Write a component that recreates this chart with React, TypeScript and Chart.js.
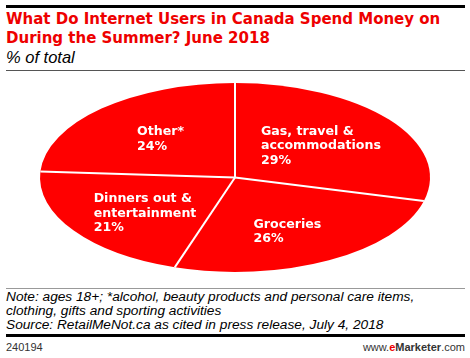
import React, { useEffect, useRef } from "react";
import { Chart, registerables } from "chart.js";

Chart.register(...registerables);

const categories: string[][] = [
  ["Gas, travel &", "accommodations"],
  ["Groceries"],
  ["Dinners out &", "entertainment"],
  ["Other*"],
];
const values: number[] = [29, 26, 21, 24];

const RED = "#ff0000";
const X_STRETCH = 195 / 94.5;

const ellipsePlugin = {
  id: "ellipsePie",
  beforeDatasetsDraw(chart: any) {
    const meta = chart.getDatasetMeta(0);
    const arc = meta.data[0];
    if (!arc) return;
    const ctx = chart.ctx;
    ctx.save();
    ctx.translate(arc.x, arc.y);
    ctx.scale(X_STRETCH, 1);
    ctx.translate(-arc.x, -arc.y);
  },
  afterDatasetsDraw(chart: any) {
    const meta = chart.getDatasetMeta(0);
    const arcs = meta.data;
    if (!arcs.length) return;
    const ctx = chart.ctx;
    ctx.restore();
    const cx = arcs[0].x;
    const cy = arcs[0].y;
    const ry = arcs[0].outerRadius;
    const rx = ry * X_STRETCH;
    // separators
    ctx.save();
    ctx.strokeStyle = "#ffffff";
    ctx.lineWidth = 2;
    arcs.forEach((a: any) => {
      ctx.beginPath();
      ctx.moveTo(cx, cy);
      ctx.lineTo(cx + rx * Math.cos(a.startAngle), cy + ry * Math.sin(a.startAngle));
      ctx.stroke();
    });
    // labels
    ctx.fillStyle = "#ffffff";
    ctx.font = "bold 12.6px 'DejaVu Sans'";
    ctx.textBaseline = "middle";
    ctx.textAlign = "left";
    const lh = 14.6;
    arcs.forEach((a: any, i: number) => {
      const mid = (a.startAngle + a.endAngle) / 2;
      const x = cx + rx * 0.558 * Math.cos(mid);
      const y = cy + ry * 0.61 * Math.sin(mid) + 3.7;
      const lines = [...categories[i], values[i] + "%"];
      const w = Math.max(...lines.map((l) => ctx.measureText(l).width));
      const top = y - ((lines.length - 1) * lh) / 2;
      lines.forEach((l, j) => ctx.fillText(l, x - w / 2, top + j * lh));
    });
    ctx.restore();
  },
};

function PieChart() {
  const ref = useRef<HTMLCanvasElement>(null);
  useEffect(() => {
    if (!ref.current) return;
    const chart = new Chart(ref.current, {
      type: "pie",
      data: {
        labels: categories.map((c) => c.join(" ")),
        datasets: [
          {
            data: values,
            backgroundColor: RED,
            borderWidth: 0,
            hoverBorderWidth: 0,
            hoverOffset: 0,
            clip: false as any,
          } as any,
        ],
      },
      options: {
        responsive: false,
        animation: false,
        devicePixelRatio: 1,
        layout: { padding: { top: 13, bottom: 13, left: 0, right: 0 } },
        plugins: { legend: { display: false }, tooltip: { enabled: false } },
        events: [],
      },
      plugins: [ellipsePlugin],
    });
    return () => chart.destroy();
  }, []);
  return (
    <canvas
      ref={ref}
      width={470}
      height={215}
      style={{ position: "absolute", left: 0, top: 70, width: 470, height: 215 }}
    />
  );
}

export default function App() {
  const sans = "'Liberation Sans', Arial, sans-serif";
  return (
    <div
      style={{
        position: "fixed",
        left: 0,
        top: 0,
        width: 470,
        height: 358,
        background: "#fff",
        overflow: "hidden",
      }}
    >
      <div style={{ position: "absolute", left: 6, top: 5, width: 459, height: 3, background: "#000" }} />
      <div
        style={{
          position: "absolute",
          left: 6,
          top: 10,
          width: 464,
          color: "#ee0000",
          fontFamily: "'DejaVu Sans', Verdana, sans-serif",
          fontWeight: "bold",
          fontSize: 15,
          lineHeight: "19px",
          whiteSpace: "nowrap",
        }}
      >
        What Do Internet Users in Canada Spend Money on
        <br />
        During the Summer? June 2018
      </div>
      <div
        style={{
          position: "absolute",
          left: 6,
          top: 48,
          fontFamily: sans,
          fontStyle: "italic",
          fontSize: 16.5,
          lineHeight: "19px",
          color: "#000",
        }}
      >
        % of total
      </div>
      <div style={{ position: "absolute", left: 6, top: 70, width: 459, height: 1, background: "#555" }} />
      <PieChart />
      <div style={{ position: "absolute", left: 6, top: 288, width: 459, height: 1, background: "#999" }} />
      <div
        style={{
          position: "absolute",
          left: 6,
          top: 290,
          width: 464,
          fontFamily: sans,
          fontStyle: "italic",
          fontSize: 13.7,
          lineHeight: "14px",
          color: "#000",
          whiteSpace: "nowrap",
        }}
      >
        Note: ages 18+; *alcohol, beauty products and personal care items,
        <br />
        clothing, gifts and sporting activities
        <br />
        Source: RetailMeNot.ca as cited in press release, July 4, 2018
      </div>
      <div style={{ position: "absolute", left: 6, top: 334, width: 459, height: 3, background: "#000" }} />
      <div
        style={{
          position: "absolute",
          left: 6,
          top: 340,
          fontFamily: sans,
          fontSize: 11,
          lineHeight: "14px",
          color: "#333",
        }}
      >
        240194
      </div>
      <div
        style={{
          position: "absolute",
          right: 5,
          top: 340,
          fontFamily: sans,
          fontSize: 11,
          lineHeight: "14px",
          color: "#333",
        }}
      >
        www.
        <span style={{ color: "#ee0000", fontWeight: "bold" }}>e</span>
        <span style={{ fontWeight: "bold" }}>Marketer</span>.com
      </div>
    </div>
  );
}
